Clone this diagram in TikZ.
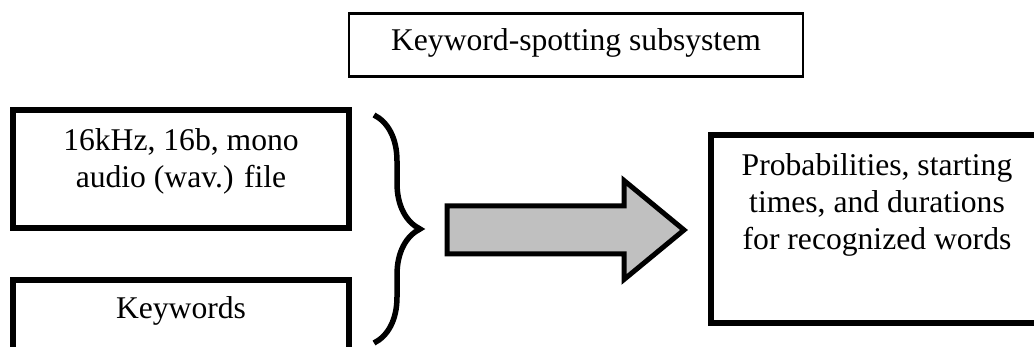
\documentclass[tikz,border=0pt]{standalone}
\usepackage{fontspec}
\setmainfont{Liberation Serif}
\usepackage{xcolor}
\usepackage{tikz}
\usetikzlibrary{
    calc,
    positioning,
    arrows.meta,
    decorations.pathreplacing
}
\definecolor{arrowgray}{RGB}{192,192,192}

\begin{document}
\begin{tikzpicture}[x=0.02cm, y=-0.02cm]
                  % Fix the page to the size of the reference
                  \useasboundingbox (0,0) rectangle (1034,347);

                  % Define box styles:
                  \tikzset{
                        thinbox/.style={draw, rectangle, line width=0.05cm, inner sep=0pt},
                        thickbox/.style={draw, rectangle, line width=0.12cm, inner sep=0pt},
                        boxtext/.style={align=center, inner sep=0pt, font=\fontsize{18}{21}\selectfont}
                  };

                  % Title of the subsystem
                  \node[thinbox, minimum width=9.08cm, minimum height=1.26cm] (title) at (576,45) {};
                  \node[boxtext] (title_txt) at (576,43) {Keyword-spotting subsystem};

                  % Inputs on the left
                  \node[thickbox, minimum width=6.72cm, minimum height=2.37cm] (audio) at (181,169) {};
                  \node[boxtext, anchor=north] (audio_txt) at (181,128) {16kHz, 16b, mono\\audio (wav.) file};

                  \node[thickbox, minimum width=6.72cm, minimum height=2.4cm] (kw) at (181,340) {};
                  \node[boxtext, anchor=base] (kw_txt) at (181,318) {Keywords};

                  % Output on the right (runs off the page)
                  \node[thickbox, minimum width=6.64cm, minimum height=3.76cm] (out) at (877,229) {};
                  \node[boxtext, anchor=north] (out_txt) at (877,153) {Probabilities, starting\\times, and durations\\for recognized words};

                  % Brace that gathers the two inputs
                  \coordinate (brace_top) at (374,115);
                  \coordinate (brace_bot) at (374,343);
                  \draw[decorate, decoration={brace, amplitude=0.92cm}, line width=0.11cm]
                        (brace_top) -- (brace_bot);

                  % Big grey block arrow
                  \draw[line width=0.1cm, fill=arrowgray, line join=miter]
                        (447,206) -- (624,206) -- (624,180.5) -- (684,230)
                        -- (624,279.5) -- (624,254) -- (447,254) -- cycle;
\end{tikzpicture}
\end{document}
